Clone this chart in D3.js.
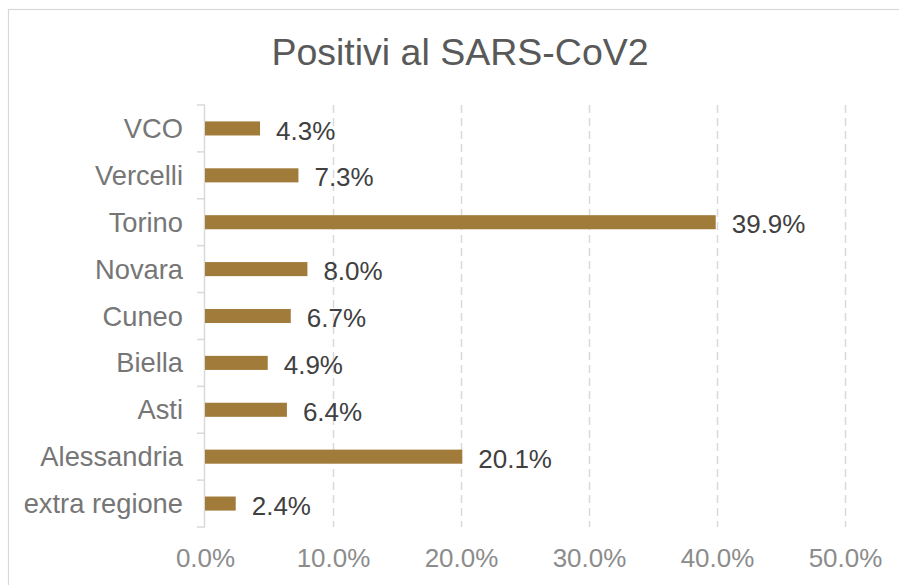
<!DOCTYPE html>
<html>
<head>
<meta charset="utf-8">
<script src="https://cdn.jsdelivr.net/npm/d3@7"></script>
<style>
  body { margin: 0; background: #fff; }
  svg { display: block; font-family: "Liberation Sans", Arial, sans-serif; }
</style>
</head>
<body>
<script>
// categories top to bottom, as shown
var categories = ['VCO', 'Vercelli', 'Torino', 'Novara', 'Cuneo', 'Biella', 'Asti', 'Alessandria', 'extra regione']
var values = [4.3, 7.3, 39.9, 8.0, 6.7, 4.9, 6.4, 20.1, 2.4]
var xTicks = [0, 10, 20, 30, 40, 50]
var title = 'Positivi al SARS-CoV2'

var W = 899, H = 585
var plot = {left: 205, right: 845, top: 105, bottom: 527}

const svg = d3.select('body').append('svg')
  .attr('width', W)
  .attr('height', H)

// chart frame (cut off at the right and bottom like the original)
svg.append('rect')
  .attr('x', 8.5).attr('y', 9.5)
  .attr('width', W + 20).attr('height', H + 20)
  .attr('fill', '#fff')
  .attr('stroke', '#d9d9d9')
  .attr('stroke-width', 1.2)

const xScale = d3.scaleLinear()
  .domain([0, 50])
  .range([plot.left, plot.right])

const yScale = d3.scaleBand()
  .domain(categories)
  .range([plot.top, plot.bottom])
  .paddingInner(0.7)
  .paddingOuter(0.35)

// title
svg.append('text')
  .attr('x', 460).attr('y', 65)
  .attr('text-anchor', 'middle')
  .attr('font-size', 37.5)
  .attr('fill', '#595959')
  .text(title)

// dashed vertical gridlines
svg.append('g')
  .selectAll('line')
  .data(xTicks.filter(d => d > 0))
  .enter().append('line')
    .attr('x1', d => Math.round(xScale(d)) + 0.5)
    .attr('x2', d => Math.round(xScale(d)) + 0.5)
    .attr('y1', plot.top)
    .attr('y2', plot.bottom)
    .attr('stroke', '#d9d9d9')
    .attr('stroke-width', 1.5)
    .attr('stroke-dasharray', '8,5')

// x axis tick labels
const xAxis = svg.append('g')
  .attr('transform', 'translate(0,' + plot.bottom + ')')
  .call(d3.axisBottom(xScale).tickValues(xTicks).tickSize(0).tickPadding(22)
    .tickFormat(d => d.toFixed(1) + '%'))
xAxis.select('.domain').remove()
xAxis.selectAll('text')
  .attr('font-size', 26)
  .attr('fill', '#8c8c8c')
  .attr('font-family', '"Liberation Sans", Arial, sans-serif')
  .attr('dy', '0.71em')

// y axis: line with ticks at band boundaries
var step = (plot.bottom - plot.top) / categories.length
const yAxis = svg.append('g')
yAxis.append('line')
  .attr('x1', plot.left - 0.5).attr('x2', plot.left - 0.5)
  .attr('y1', plot.top).attr('y2', plot.bottom)
  .attr('stroke', '#d9d9d9').attr('stroke-width', 1.5)
yAxis.selectAll('.tk')
  .data(d3.range(categories.length + 1))
  .enter().append('line')
    .attr('class', 'tk')
    .attr('x1', plot.left - 8).attr('x2', plot.left)
    .attr('y1', i => plot.top + i * step)
    .attr('y2', i => plot.top + i * step)
    .attr('stroke', '#d9d9d9').attr('stroke-width', 1.5)

yAxis.selectAll('.lbl')
  .data(categories)
  .enter().append('text')
    .attr('class', 'lbl')
    .attr('x', 183)
    .attr('y', d => yScale(d) + yScale.bandwidth() / 2)
    .attr('dy', '0.35em')
    .attr('text-anchor', 'end')
    .attr('font-size', 27.3)
    .attr('fill', '#767676')
    .text(d => d)

// bars
svg.append('g')
  .selectAll('rect')
  .data(categories)
  .enter().append('rect')
    .attr('x', xScale(0))
    .attr('y', d => yScale(d))
    .attr('width', (d, i) => xScale(values[i]) - xScale(0))
    .attr('height', yScale.bandwidth())
    .attr('fill', '#a17b39')

// value labels
svg.append('g')
  .selectAll('text')
  .data(categories)
  .enter().append('text')
    .attr('x', (d, i) => xScale(values[i]) + 16)
    .attr('y', d => yScale(d) + yScale.bandwidth() / 2 + 2)
    .attr('dy', '0.35em')
    .attr('font-size', 26)
    .attr('fill', '#404040')
    .text((d, i) => values[i].toFixed(1) + '%')
</script>
</body>
</html>
